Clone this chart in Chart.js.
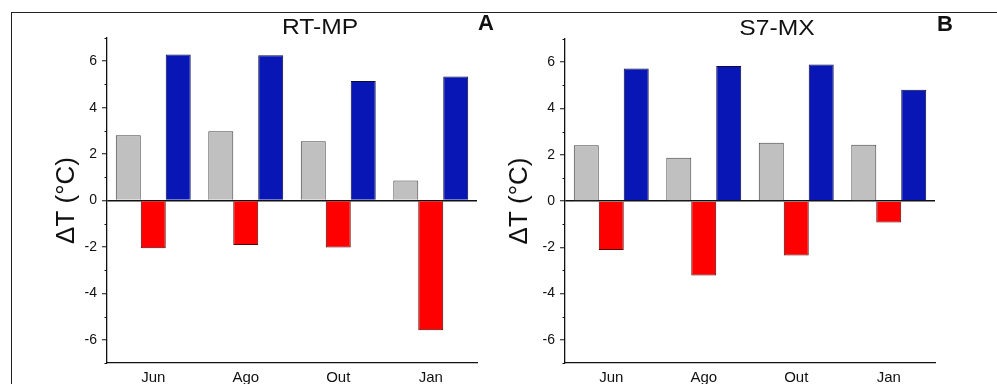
<!DOCTYPE html>
<html>
<head>
<meta charset="utf-8">
<script src="https://cdn.jsdelivr.net/npm/chart.js@4/dist/chart.umd.min.js"></script>
<style>
    body { margin: 0; background: #fff; width: 997px; height: 384px; overflow: hidden; position: relative;
           font-family: "Liberation Sans", Arial, sans-serif; }
    .frame { position: absolute; left: 11px; top: 12px; width: 990px; height: 380px;
             border-top: 1.5px solid #222; border-left: 1.5px solid #222; }
    .box { position: absolute; top: 0; width: 497px; height: 384px; }
    .ttl { position: absolute; font-size: 22px; color: #111; transform: translate(-50%, -50%) scaleX(1.12); white-space: nowrap; }
    .lbl { font-weight: bold; font-size: 22px; transform: translate(-50%, -50%); }
</style>
</head>
<body>
<div class="frame"></div>
<div class="box" style="left:0"><canvas id="chartA" width="497" height="384"></canvas></div>
<div class="box" style="left:458px"><canvas id="chartB" width="497" height="384"></canvas></div>
<div class="ttl" style="left:320px;top:27px">RT-MP</div>
<div class="ttl lbl" style="left:486px;top:23px">A</div>
<div class="ttl" style="left:777px;top:28px">S7-MX</div>
<div class="ttl lbl" style="left:945px;top:24px">B</div>

<script>
// months on the x axis
const months = ['Jun', 'Ago', 'Out', 'Jan'];
const yMin = -7;
const yMax = 7;

// panel A - RT-MP
const rtGray = [2.81, 2.98, 2.55, 0.86];
const rtRed = [-2.06, -1.92, -2.02, -5.59];
const rtBlue = [6.29, 6.26, 5.15, 5.34];

// panel B - S7-MX
const s7Gray = [2.41, 1.87, 2.52, 2.43];
const s7Red = [-2.12, -3.22, -2.35, -0.93];
const s7Blue = [5.72, 5.83, 5.90, 4.81];

const axisColor = '#111';

// short minor ticks at the odd values (major ones come from the grid)
const minorTicks = {
    id: 'minorTicks',
    afterDraw: function(chart) {
        const y = chart.scales.y;
        const c = chart.ctx;
        c.save();
        c.strokeStyle = axisColor;
        c.lineWidth = 1;
        for (let v = yMin; v <= yMax; v++) {
            if (v % 2 === 0) continue;
            const py = Math.round(y.getPixelForValue(v)) + 0.5;
            c.beginPath();
            c.moveTo(y.right - 2.5, py);
            c.lineTo(y.right, py);
            c.stroke();
        }
        c.restore();
    }
};

function makeChart(id, gray, red, blue, padTop, titlePad) {
    const ctx = document.getElementById(id);
    return new Chart(ctx, {
        type: 'bar',
        data: {
            labels: months,
            datasets: [
                { data: gray, backgroundColor: '#c0c0c0', borderColor: '#444', borderWidth: 1 },
                { data: red, backgroundColor: '#ff0000', borderColor: '#5a0000', borderWidth: 1 },
                { data: blue, backgroundColor: '#0716b5', borderColor: '#0a0a40', borderWidth: 1 }
            ]
        },
        options: {
            responsive: false,
            animation: false,
            devicePixelRatio: 1,
            layout: { padding: { top: padTop, right: 20, left: 0, bottom: 0 } },
            datasets: { bar: { categoryPercentage: 0.81, barPercentage: 1 } },
            plugins: { legend: { display: false }, tooltip: { enabled: false } },
            scales: {
                x: {
                    grid: { display: true, drawOnChartArea: false, drawTicks: false },
                    border: { display: true, color: axisColor, width: 1.3 },
                    ticks: { color: axisColor, padding: 6, font: { size: 15, family: '"Liberation Sans", Arial' } },
                    afterFit: function(scale) { scale.height = 21; }
                },
                y: {
                    min: yMin,
                    max: yMax,
                    ticks: {
                        stepSize: 2,
                        autoSkip: false,
                        color: axisColor,
                        padding: 5,
                        font: { size: 14, family: '"Liberation Sans", Arial' },
                        callback: function(v) { return String(v); }
                    },
                    afterBuildTicks: function(scale) {
                        scale.ticks = [-6, -4, -2, 0, 2, 4, 6].map(function(v) { return { value: v }; });
                    },
                    grid: {
                        drawOnChartArea: true,
                        color: function(c) { return c.tick && c.tick.value === 0 ? axisColor : 'rgba(0,0,0,0)'; },
                        lineWidth: 1.5,
                        tickColor: axisColor,
                        tickWidth: 1,
                        tickLength: 5
                    },
                    border: { display: true, color: axisColor, width: 1.3 },
                    title: {
                        display: true,
                        text: 'ΔT (°C)',
                        color: axisColor,
                        font: { size: 26, family: '"Liberation Sans", Arial' },
                        padding: { top: titlePad, bottom: 0 }
                    },
                    afterFit: function(scale) { scale.width = 107; }
                }
            }
        },
        plugins: [minorTicks]
    });
}

makeChart('chartA', rtGray, rtRed, rtBlue, 38, 51);
makeChart('chartB', s7Gray, s7Red, s7Blue, 39, 46);
</script>
</body>
</html>
